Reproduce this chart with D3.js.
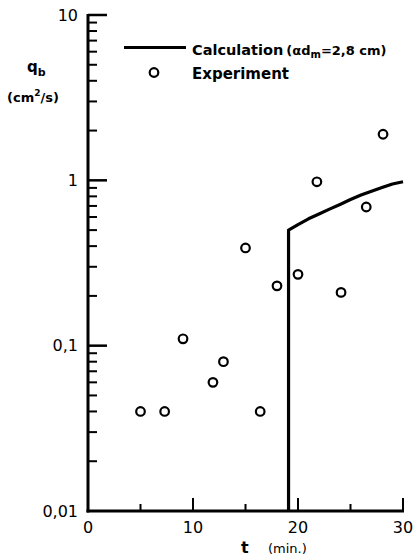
<!DOCTYPE html>
<html><head><meta charset="utf-8">
<script src="https://cdn.jsdelivr.net/npm/d3@7"></script>
<style>html,body{margin:0;padding:0;background:#fff;}svg{display:block;}</style>
</head><body>
<script>
// Data
const expT = [5.0, 7.3, 9.05, 11.9, 12.9, 15.0, 16.4, 18.0, 20.0, 21.8, 24.1, 26.5, 28.1];
const expQ = [0.04, 0.04, 0.11, 0.06, 0.08, 0.39, 0.04, 0.23, 0.27, 0.98, 0.21, 0.69, 1.9];
const calcT = [19.1, 19.1, 20, 21, 22, 23, 24, 25, 26, 27, 28, 29, 30];
const calcQ = [0.01, 0.5, 0.54, 0.585, 0.625, 0.67, 0.715, 0.765, 0.815, 0.86, 0.905, 0.95, 0.98];
const yMajor = [0.01, 0.1, 1, 10];
const yMajorLabels = ["0,01", "0,1", "1", "10"];
const yMinor = [0.02, 0.03, 0.04, 0.05, 0.06, 0.07, 0.08, 0.09,
                0.2, 0.3, 0.4, 0.5, 0.6, 0.7, 0.8, 0.9,
                2, 3, 4, 5, 6, 7, 8, 9];
const xMajor = [0, 10, 20, 30];
const xMinor = [5, 15, 25];

const W = 416, H = 560;
const svg = d3.select("body").append("svg").attr("width", W).attr("height", H);
const x = d3.scaleLinear().domain([0, 30]).range([88, 403]);
const y = d3.scaleLog().domain([0.01, 10]).range([511, 15]);
const font = "DejaVu Sans";

// axis lines
svg.append("line").attr("x1", x(0)).attr("x2", x(0)).attr("y1", y(10) - 1).attr("y2", y(0.01) + 1.5)
  .attr("stroke", "#000").attr("stroke-width", 3);
svg.append("line").attr("x1", x(0) - 1.5).attr("x2", x(30) + 1).attr("y1", y(0.01)).attr("y2", y(0.01))
  .attr("stroke", "#000").attr("stroke-width", 3);

// tick marks (inside)
const x0 = x(0), yb = y(0.01);
const tg = svg.append("g").attr("fill", "#000");
tg.selectAll("rect.ymin").data(yMinor).join("rect").attr("class", "ymin")
  .attr("x", x0).attr("y", d => y(d) - 1).attr("width", 9).attr("height", 2);
tg.selectAll("rect.ymaj").data(yMajor.slice(1)).join("rect").attr("class", "ymaj")
  .attr("x", x0).attr("y", d => y(d) - 1.25).attr("width", 19).attr("height", 2.5);
tg.selectAll("rect.xmin").data(xMinor).join("rect").attr("class", "xmin")
  .attr("x", d => x(d) - 1).attr("y", yb - 7).attr("width", 2).attr("height", 7);
tg.selectAll("rect.xmaj").data(xMajor.slice(1)).join("rect").attr("class", "xmaj")
  .attr("x", d => x(d) - 1).attr("y", yb - 13).attr("width", 2).attr("height", 13);

// tick labels
const lbl = svg.append("g").attr("font-family", font).attr("font-size", 16).attr("fill", "#000");
lbl.selectAll("text.yl").data(yMajor).join("text").attr("class", "yl")
  .attr("x", x0 - 10).attr("y", d => y(d)).attr("dy", "0.35em").attr("text-anchor", "end")
  .text((d, i) => yMajorLabels[i]);
lbl.selectAll("text.xl").data(xMajor).join("text").attr("class", "xl")
  .attr("x", d => x(d)).attr("y", yb + 10).attr("dy", "0.75em").attr("text-anchor", "middle")
  .text(d => String(d));

// calculation line
const line = d3.line().x((d, i) => x(calcT[i])).y((d, i) => y(calcQ[i]));
svg.append("path").datum(calcT).attr("d", line).attr("fill", "none")
  .attr("stroke", "#000").attr("stroke-width", 3.2).attr("stroke-linejoin", "round");

// experiment points
svg.append("g").selectAll("circle").data(expT).join("circle")
  .attr("cx", d => x(d)).attr("cy", (d, i) => y(expQ[i])).attr("r", 4.3)
  .attr("fill", "#fff").attr("stroke", "#000").attr("stroke-width", 2.2);

// legend
svg.append("line").attr("x1", 124).attr("x2", 186).attr("y1", 47.5).attr("y2", 47.5)
  .attr("stroke", "#000").attr("stroke-width", 3);
const lt = svg.append("text").attr("x", 192).attr("y", 55).attr("font-family", font)
  .attr("font-weight", "bold").attr("font-size", 14.5).attr("fill", "#000");
lt.append("tspan").text("Calculation");
lt.append("tspan").attr("dx", 3).attr("font-size", 13).text("(\u03B1d");
lt.append("tspan").attr("font-size", 10).attr("dy", 3).text("m");
lt.append("tspan").attr("font-size", 13).attr("dy", -3).text("=2,8 cm)");
svg.append("circle").attr("cx", 154).attr("cy", 72.5).attr("r", 4.3)
  .attr("fill", "#fff").attr("stroke", "#000").attr("stroke-width", 2.2);
svg.append("text").attr("x", 192).attr("y", 79).attr("font-family", font)
  .attr("font-weight", "bold").attr("font-size", 15).attr("fill", "#000").text("Experiment");

// y label
const yl = svg.append("text").attr("x", 27).attr("y", 72).attr("font-family", font)
  .attr("font-weight", "bold").attr("font-size", 15).attr("fill", "#000");
yl.append("tspan").text("q");
yl.append("tspan").attr("font-size", 11).attr("dy", 4).text("b");
const yl2 = svg.append("text").attr("x", 7).attr("y", 102).attr("font-family", font)
  .attr("font-weight", "bold").attr("font-size", 13).attr("fill", "#000");
yl2.append("tspan").text("(cm");
yl2.append("tspan").attr("font-size", 9).attr("dy", -6).text("2");
yl2.append("tspan").attr("dy", 6).text("/s)");

// x label
svg.append("text").attr("x", 241).attr("y", 553).attr("font-family", font)
  .attr("font-weight", "bold").attr("font-size", 16).attr("fill", "#000").text("t");
svg.append("text").attr("x", 268).attr("y", 553).attr("font-family", font)
  .attr("font-size", 13).attr("fill", "#000").text("(min.)");
</script>
</body></html>
